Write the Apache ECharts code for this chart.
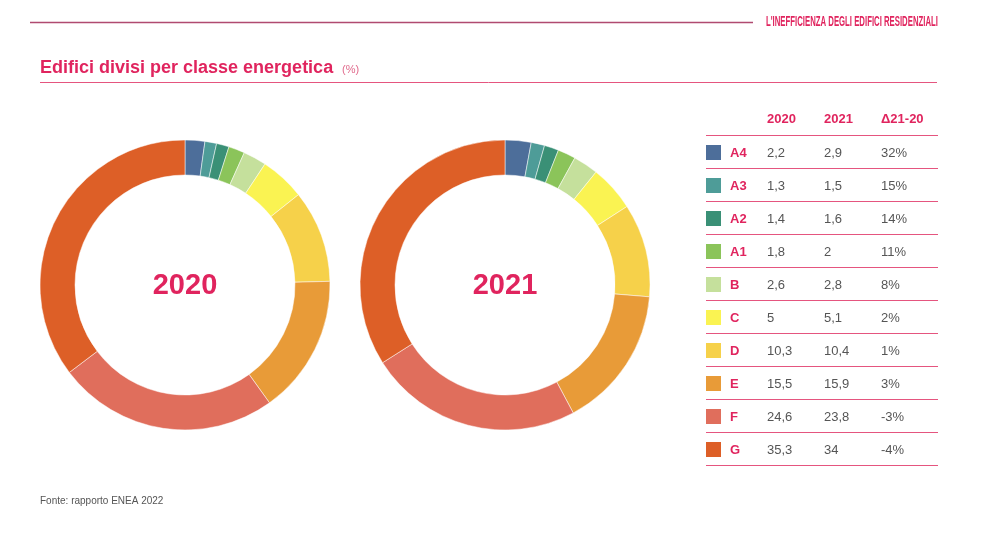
<!DOCTYPE html>
<html>
<head>
<meta charset="utf-8">
<script src="https://cdn.jsdelivr.net/npm/echarts@6/dist/echarts.min.js"></script>
<style>
  html, body { margin: 0; padding: 0; background: #fff; }
  #chart { width: 981px; height: 549px; }
</style>
</head>
<body>
<div id="chart"></div>
<script>
// classi energetiche
var classi = ['A4', 'A3', 'A2', 'A1', 'B', 'C', 'D', 'E', 'F', 'G'];
var valori2020 = [2.2, 1.3, 1.4, 1.8, 2.6, 5, 10.3, 15.5, 24.6, 35.3];
var valori2021 = [2.9, 1.5, 1.6, 2, 2.8, 5.1, 10.4, 15.9, 23.8, 34];
var delta = ['32%', '15%', '14%', '11%', '8%', '2%', '1%', '3%', '-3%', '-4%'];
var colori = ['#4d6e9a', '#4e9c98', '#3a9076', '#8bc45a', '#c5e09c',
              '#faf352', '#f6d14a', '#e89b38', '#e06e5c', '#dd5f27'];
var anni = ['2020', '2021'];
var intestazioni = ['2020', '2021', 'Δ21-20'];

var rosa = '#e0245e';
var font = '"Liberation Sans", Arial, sans-serif';

var myChart = echarts.init(document.getElementById('chart'));

function formatta(v) {
    return String(v).replace('.', ',');
}

function serieTorta(valori, cx) {
    return {
        type: 'pie',
        radius: [110, 145],
        center: [cx, 285],
        startAngle: 90,
        clockwise: true,
        silent: true,
        label: { show: false },
        labelLine: { show: false },
        itemStyle: { borderColor: '#fff', borderWidth: 0.5 },
        data: classi.map(function (c, i) {
            return { name: c, value: valori[i], itemStyle: { color: colori[i] } };
        })
    };
}

// elementi grafici: testi, linee e tabella
var grafica = [];

grafica.push({
    type: 'line', shape: { x1: 30, y1: 22.5, x2: 753, y2: 22.5 },
    style: { stroke: '#b04a70', lineWidth: 1.5 }
});
grafica.push({
    type: 'group', x: 766, y: 22, scaleX: 0.555,
    children: [{
        type: 'text', x: 0, y: 0,
        style: {
            text: "L'INEFFICIENZA DEGLI EDIFICI RESIDENZIALI", fill: rosa,
            fontSize: 14, fontWeight: 'bold', fontFamily: '"Liberation Sans Narrow", sans-serif',
            verticalAlign: 'middle'
        }
    }]
});
grafica.push({
    type: 'text', x: 40, y: 68,
    style: {
        text: 'Edifici divisi per classe energetica', fill: rosa,
        font: 'bold 18px ' + font, textVerticalAlign: 'middle'
    }
});
grafica.push({
    type: 'text', x: 342, y: 70,
    style: { text: '(%)', fill: '#e06a8c', font: '11px ' + font, textVerticalAlign: 'middle' }
});
grafica.push({
    type: 'line', shape: { x1: 40, y1: 82.5, x2: 937, y2: 82.5 },
    style: { stroke: '#e5557f', lineWidth: 1 }
});

// etichette centrali
[185, 505].forEach(function (cx, k) {
    grafica.push({
        type: 'text', x: cx, y: 286,
        style: {
            text: anni[k], fill: rosa, font: 'bold 29px ' + font,
            textAlign: 'center', textVerticalAlign: 'middle'
        }
    });
});

// tabella
var colX = [767, 824, 881];
intestazioni.forEach(function (h, j) {
    grafica.push({
        type: 'text', x: colX[j], y: 119,
        style: { text: h, fill: rosa, font: 'bold 13px ' + font, textVerticalAlign: 'middle' }
    });
});
for (var r = 0; r <= classi.length; r++) {
    grafica.push({
        type: 'line', shape: { x1: 706, y1: 135.5 + r * 33, x2: 938, y2: 135.5 + r * 33 },
        style: { stroke: '#e5557f', lineWidth: 1 }
    });
}
classi.forEach(function (c, i) {
    var y = 152 + i * 33;
    grafica.push({
        type: 'rect', shape: { x: 706, y: y - 7, width: 15, height: 15 },
        style: { fill: colori[i] }
    });
    grafica.push({
        type: 'text', x: 730, y: y + 1,
        style: { text: c, fill: rosa, font: 'bold 13px ' + font, textVerticalAlign: 'middle' }
    });
    [formatta(valori2020[i]), formatta(valori2021[i]), delta[i]].forEach(function (t, j) {
        grafica.push({
            type: 'text', x: colX[j], y: y + 1,
            style: { text: t, fill: '#555', font: '13px ' + font, textVerticalAlign: 'middle' }
        });
    });
});

grafica.push({
    type: 'text', x: 40, y: 501,
    style: { text: 'Fonte: rapporto ENEA 2022', fill: '#555', font: '10px ' + font, textVerticalAlign: 'middle' }
});

myChart.setOption({
    animation: false,
    series: [serieTorta(valori2020, 185), serieTorta(valori2021, 505)],
    graphic: grafica
});
</script>
</body>
</html>
